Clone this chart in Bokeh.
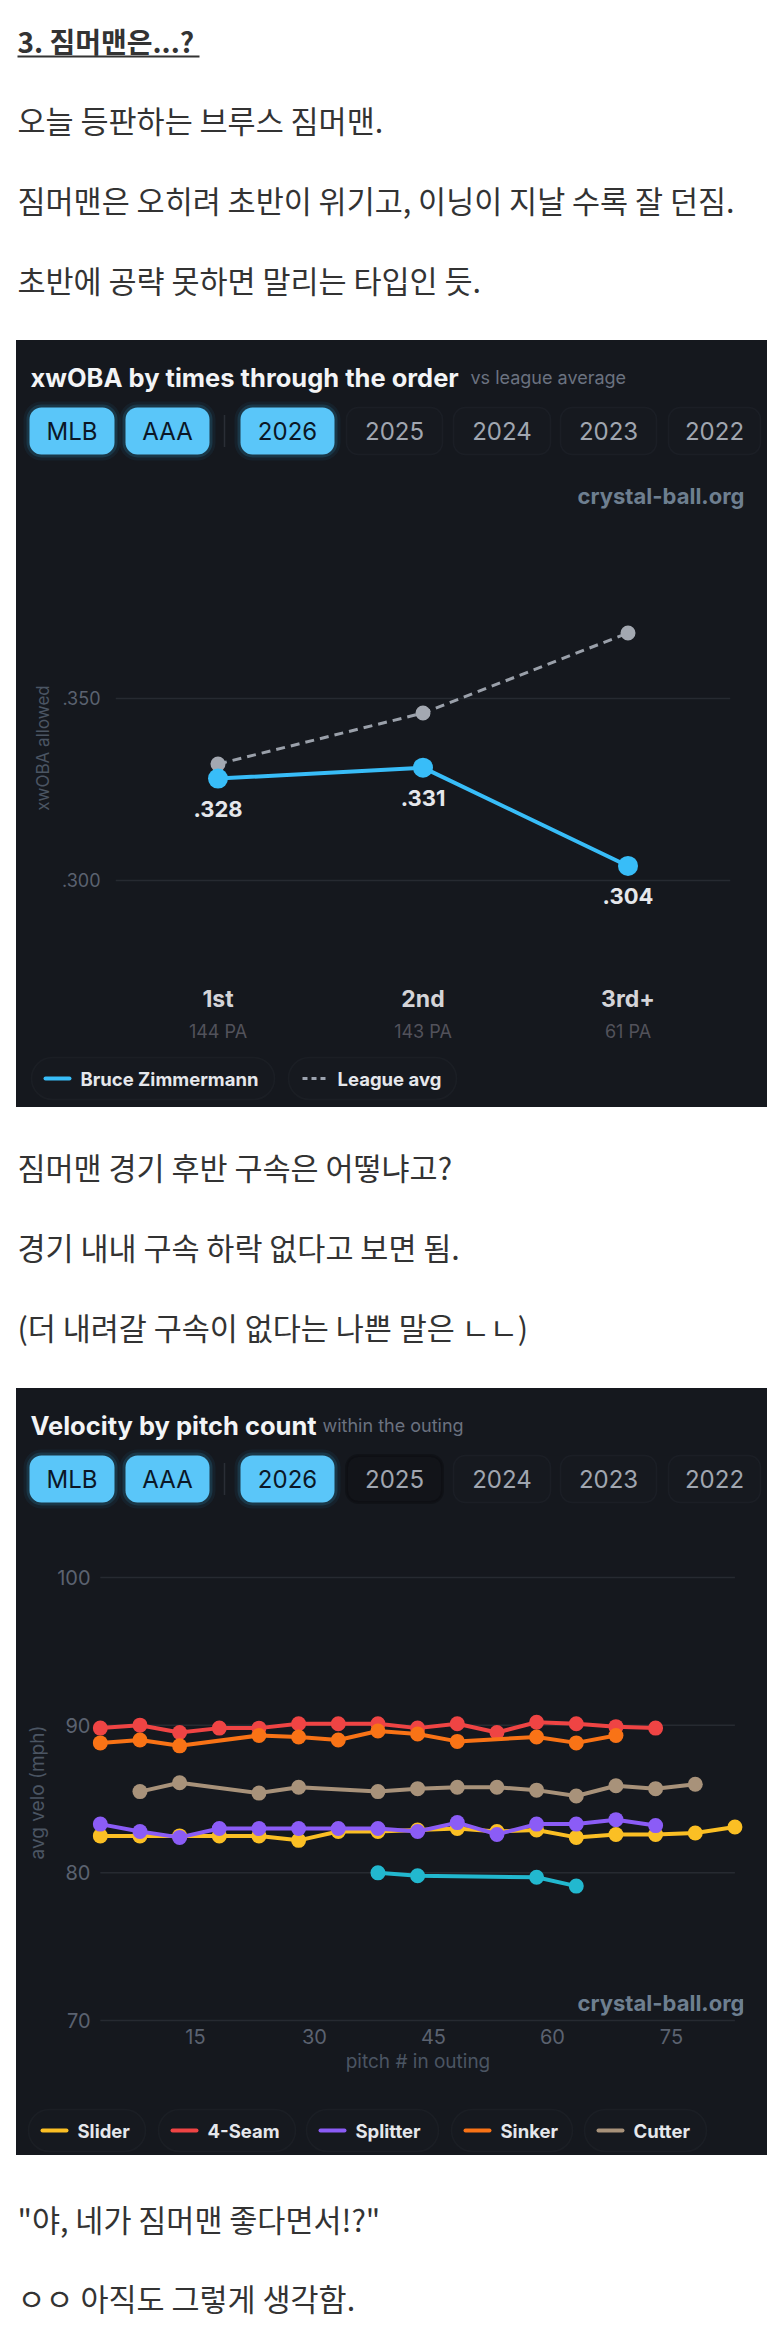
from bokeh.plotting import figure
from bokeh.layouts import column, row
from bokeh.models import (Range1d, FactorRange, FixedTicker, CustomJSTickFormatter,
                          BoxAnnotation, CategoricalAxis, Label, Spacer)
from bokeh.core.properties import value
from bokeh.embed import file_html
from bokeh.resources import INLINE

# ---------------- post text ----------------
post_heading = "3. 짐머맨은...?"
para_intro = ["오늘 등판하는 브루스 짐머맨.",
              "짐머맨은 오히려 초반이 위기고, 이닝이 지날 수록 잘 던짐.",
              "초반에 공략 못하면 말리는 타입인 듯."]
para_velo = ["짐머맨 경기 후반 구속은 어떻냐고?",
             "경기 내내 구속 하락 없다고 보면 됨.",
             "(더 내려갈 구속이 없다는 나쁜 말은 ㄴㄴ)"]
para_end = ["\"야, 네가 짐머맨 좋다면서!?\"",
            "ㅇㅇ 아직도 그렇게 생각함."]

# ---------------- chart 1 data ----------------
tto_title = "xwOBA by times through the order"
tto_subtitle = "vs league average"
tto_labels = ["1st", "2nd", "3rd+"]
tto_pa = ["144 PA", "143 PA", "61 PA"]
zimmermann_xwoba = [0.328, 0.331, 0.304]
league_xwoba = [0.332, 0.346, 0.368]
xwoba_ticks = [0.300, 0.350]
tto_series = ["Bruce Zimmermann", "League avg"]

# ---------------- chart 2 data ----------------
velo_title = "Velocity by pitch count"
velo_subtitle = "within the outing"
slider_pitch = [3, 8, 13, 18, 23, 28, 33, 38, 43, 48, 53, 58, 63, 68, 73, 78, 83]
slider_velo = [82.5, 82.5, 82.5, 82.5, 82.5, 82.2, 82.8, 82.8, 82.9, 83.0, 82.8, 82.9, 82.4, 82.6, 82.6, 82.7, 83.1]
fourseam_pitch = [3, 8, 13, 18, 23, 28, 33, 38, 43, 48, 53, 58, 63, 68, 73]
fourseam_velo = [89.8, 90.0, 89.5, 89.8, 89.8, 90.1, 90.1, 90.1, 89.8, 90.1, 89.5, 90.2, 90.1, 89.9, 89.8]
splitter_pitch = [3, 8, 13, 18, 23, 28, 33, 38, 43, 48, 53, 58, 63, 68, 73]
splitter_velo = [83.3, 82.8, 82.4, 83.0, 83.0, 83.0, 83.0, 83.0, 82.8, 83.4, 82.6, 83.3, 83.3, 83.6, 83.2]
sinker_pitch = [3, 8, 13, 23, 28, 33, 38, 43, 48, 58, 63, 68]
sinker_velo = [88.8, 89.0, 88.6, 89.3, 89.2, 89.0, 89.6, 89.4, 88.9, 89.2, 88.8, 89.3]
cutter_pitch = [8, 13, 23, 28, 38, 43, 48, 53, 58, 63, 68, 73, 78]
cutter_velo = [85.5, 86.1, 85.4, 85.8, 85.5, 85.7, 85.8, 85.8, 85.6, 85.2, 85.9, 85.7, 86.0]
curve_pitch = [38, 43, 58, 63]
curve_velo = [80.0, 79.8, 79.7, 79.1]
velo_ticks = [70, 80, 90, 100]
pitch_ticks = [15, 30, 45, 60, 75]
legend_pitches = ["Slider", "4-Seam", "Splitter", "Sinker", "Cutter"]

level_buttons = ["MLB", "AAA"]
season_buttons = ["2026", "2025", "2024", "2023", "2022"]
watermark = "crystal-ball.org"

# ---------------- styles ----------------
FONT = "Inter"
INTER = value(FONT)
KR = value("Noto Sans CJK KR")
TEXT = "#333333"
PANEL = "#15181e"
GRID = "#262a31"
TICK = "#5b6270"
BLUE = "#38bdf8"
PITCH_COLORS = {"Slider": "#fbbf24", "4-Seam": "#ef4444", "Splitter": "#8b5cf6",
                "Sinker": "#f97316", "Cutter": "#a8927a", "Curveball": "#22b8cf"}


def style(p, bg):
    # paint the background with CSS so no canvas seams appear between stacked figures
    p.background_fill_color = None
    p.border_fill_color = None
    p.outline_line_color = None
    p.styles = {"background-color": bg}
    return p


def pix_fig(x0, x1, y0, y1, bg):
    p = figure(width=x1 - x0, height=y1 - y0, x_range=Range1d(x0, x1), y_range=Range1d(y1, y0),
               x_axis_type=None, y_axis_type=None, output_backend="svg", toolbar_location=None,
               min_border=0)
    return style(p, bg)


def text_block(y0, y1, lines, ys):
    p = pix_fig(0, 780, y0, y1, "white")
    p.text(x=[17] * len(lines), y=ys, text=lines, text_font=KR, text_font_size="30.5px",
           text_color=TEXT, text_baseline="middle")
    return p


# ---------------- top text ----------------
top = text_block(0, 340, para_intro, [119, 199, 279])
top.text(x=[17], y=[40], text=[post_heading], text_font=KR, text_font_size="28px",
         text_font_style="bold", text_color=TEXT, text_baseline="middle")
top.segment(x0=[17], y0=[56], x1=[199], y1=[56], line_color=TEXT, line_width=2)

# ---------------- chart header ----------------
BTN_X = [(29, 114), (125, 209), (240, 334), (346, 442), (453, 550), (560, 656), (668, 760)]


def chart_header(y0, y1, title, subtitle, sub_x, hovered=None, mark_y=None):
    p = pix_fig(16, 767, y0, y1, PANEL)
    base = y0 + 37
    p.text(x=[30], y=[base], text=[title], text_font=INTER, text_font_style="bold",
           text_font_size="25.5px", text_color="#f3f4f6", text_baseline="alphabetic")
    p.text(x=[sub_x], y=[base], text=[subtitle], text_font=INTER, text_font_size="18px",
           text_color="#6b7280", text_baseline="alphabetic")
    bt, bb = y0 + 67, y0 + 114
    cy = (bt + bb) / 2
    labels = level_buttons + season_buttons
    active = [True, True, True, False, False, False, False]
    for (x0, x1), lab, act in zip(BTN_X, labels, active):
        if act:
            for pad, a in ((6, 0.06), (3, 0.14)):
                p.add_layout(BoxAnnotation(left=x0 - pad, right=x1 + pad, top=bt - pad, bottom=bb + pad,
                                           border_radius=12 + pad, fill_color=BLUE, fill_alpha=a,
                                           line_color=None, level="underlay"))
            p.add_layout(BoxAnnotation(left=x0, right=x1, top=bt, bottom=bb, border_radius=12,
                                       fill_color="#5ac6f9", fill_alpha=1, line_color=None,
                                       level="underlay"))
            col = "#0b1726"
        else:
            hov = (lab == hovered)
            p.add_layout(BoxAnnotation(left=x0, right=x1, top=bt, bottom=bb, border_radius=12,
                                       fill_color="#121419" if hov else "#16191f", fill_alpha=1,
                                       line_color="#07080b" if hov else "#2a2e37",
                                       line_width=3 if hov else 1.5, level="underlay"))
            col = "#a0a6b0"
        p.text(x=[(x0 + x1) / 2], y=[cy], text=[lab], text_font=INTER, text_font_size="24px",
               text_color=col, text_align="center", text_baseline="middle")
    p.segment(x0=[224], y0=[cy - 16], x1=[224], y1=[cy + 16], line_color="#2a2e36", line_width=1.5)
    if mark_y is not None:
        p.text(x=[744], y=[mark_y], text=[watermark], text_font=INTER, text_font_style="bold",
               text_font_size="22px", text_color="#6e7f90", text_align="right",
               text_baseline="middle")
    return p


def legend_footer(y0, y1, pt, pb, items):
    p = pix_fig(16, 767, y0, y1, PANEL)
    cy = (pt + pb) / 2
    for (x0, x1), name, color, dash in items:
        p.add_layout(BoxAnnotation(left=x0, right=x1, top=pt, bottom=pb,
                                   border_radius=int((pb - pt) // 2),
                                   fill_color="#16191f", fill_alpha=1, line_color="#2a2e36",
                                   line_width=1.5, level="underlay"))
        p.segment(x0=[x0 + 14], y0=[cy], x1=[x0 + 38], y1=[cy], line_color=color,
                  line_width=4 if dash is None else 3, line_cap="round" if dash is None else "butt",
                  line_dash="solid" if dash is None else dash)
        p.text(x=[x0 + 49], y=[cy], text=[name], text_font=INTER, text_font_style="bold",
               text_font_size="18.5px", text_color="#e5e7eb", text_baseline="middle")
    return p


def dark_plot(**kw):
    p = figure(output_backend="svg", toolbar_location=None, **kw)
    return style(p, PANEL)


# ---------------- chart 1 ----------------
h1 = chart_header(340, 520, tto_title, tto_subtitle, 470, mark_y=495)

p1 = dark_plot(width=751, height=525, x_range=FactorRange(factors=tto_labels),
               y_range=Range1d(0.2739, 0.3989),
               min_border_left=99, min_border_right=37, min_border_top=0, min_border_bottom=70)
xt = FixedTicker(ticks=xwoba_ticks)
p1.yaxis.ticker = xt
p1.ygrid.ticker = xt
p1.yaxis.formatter = CustomJSTickFormatter(code="return tick.toFixed(3).replace(/^0/, '')")
p1.ygrid.grid_line_color = GRID
p1.ygrid.grid_line_width = 1.5
p1.xgrid.visible = False
ya = p1.yaxis[0]
ya.axis_line_color = None
ya.major_tick_line_color = None
ya.minor_tick_line_color = None
ya.major_tick_out = 0
ya.major_label_standoff = 15
ya.major_label_text_font = FONT
ya.major_label_text_font_size = "18px"
ya.major_label_text_color = TICK
ya.axis_label = "xwOBA allowed"
ya.axis_label_text_font = FONT
ya.axis_label_text_font_style = "normal"
ya.axis_label_text_font_size = "17px"
ya.axis_label_text_color = "#4b5563"
ya.axis_label_standoff = 6

xa = p1.xaxis[0]
xa.axis_line_color = None
xa.major_tick_line_color = None
xa.major_tick_out = 0
xa.major_label_standoff = 9
xa.major_label_text_font = FONT
xa.major_label_text_font_style = "bold"
xa.major_label_text_font_size = "23px"
xa.major_label_text_color = "#d4d4d8"

p1.extra_x_ranges = {"pa": FactorRange(factors=tto_pa)}
xa2 = CategoricalAxis(x_range_name="pa", axis_line_color=None, major_tick_line_color=None,
                      major_tick_out=0, major_label_standoff=5, major_label_text_font=FONT,
                      major_label_text_font_size="18px", major_label_text_color="#52525b")
p1.add_layout(xa2, "below")

p1.line(tto_labels, league_xwoba, line_color="#9aa0aa", line_width=3, line_dash="9 6")
p1.scatter(tto_labels, league_xwoba, size=15, fill_color="#a3a8b1", line_color=None)
p1.line(tto_labels, zimmermann_xwoba, line_color=BLUE, line_width=4)
p1.scatter(tto_labels, zimmermann_xwoba, size=20, fill_color=BLUE, line_color=None)
p1.text(tto_labels, zimmermann_xwoba, text=[f"{v:.3f}"[1:] for v in zimmermann_xwoba],
        y_offset=30, text_font=INTER, text_font_style="bold", text_font_size="22px",
        text_color="#e5e7eb", text_align="center", text_baseline="middle")

f1 = legend_footer(1045, 1107, 1057, 1099,
                   [((31, 274), tto_series[0], BLUE, None),
                    ((288, 456), tto_series[1], "#9ca3af", "5 4")])

# ---------------- text between ----------------
mid = text_block(1107, 1388, para_velo, [1166, 1246, 1326])

# ---------------- chart 2 ----------------
h2 = chart_header(1388, 1560, velo_title, velo_subtitle, 322, hovered="2025")

p2 = dark_plot(width=751, height=535, x_range=Range1d(2.017, 84.08),
               y_range=Range1d(69.729, 101.151),
               min_border_left=76, min_border_right=24, min_border_top=0, min_border_bottom=71)
p2.grid.visible = False
series = [("Slider", slider_pitch, slider_velo), ("4-Seam", fourseam_pitch, fourseam_velo),
          ("Splitter", splitter_pitch, splitter_velo), ("Sinker", sinker_pitch, sinker_velo),
          ("Cutter", cutter_pitch, cutter_velo), ("Curveball", curve_pitch, curve_velo)]
all_x = [x for _, xs, _ in series for x in xs]
gx0, gx1 = min(all_x), max(all_x)
p2.segment(x0=[gx0] * len(velo_ticks), y0=velo_ticks, x1=[gx1] * len(velo_ticks), y1=velo_ticks,
           line_color=GRID, line_width=1.5)
for name, xs, ys in series:
    c = PITCH_COLORS[name]
    p2.line(xs, ys, line_color=c, line_width=4)
    p2.scatter(xs, ys, size=15, fill_color=c, line_color=None)

xa = p2.xaxis[0]
xa.ticker = FixedTicker(ticks=pitch_ticks)
ya = p2.yaxis[0]
ya.ticker = FixedTicker(ticks=velo_ticks)
for ax in (xa, ya):
    ax.axis_line_color = None
    ax.major_tick_line_color = None
    ax.minor_tick_line_color = None
    ax.major_tick_out = 0
    ax.major_label_text_font = FONT
    ax.major_label_text_font_size = "20px"
    ax.major_label_text_color = TICK
    ax.axis_label_text_font = FONT
    ax.axis_label_text_font_style = "normal"
    ax.axis_label_text_font_size = "19px"
    ax.axis_label_text_color = "#4b5563"
xa.major_label_standoff = 4
xa.axis_label = "pitch # in outing"
xa.axis_label_standoff = 3
ya.major_label_standoff = 2
ya.axis_label = "avg velo (mph)"
ya.axis_label_standoff = 5
p2.add_layout(Label(x=652, y=22, x_units="screen", y_units="screen", text=watermark,
                    text_font=FONT, text_font_style="bold", text_font_size="22px",
                    text_color="#6e7f90", text_align="right", text_baseline="middle"))

LEG2_X = [(28, 145), (158, 295), (306, 438), (451, 572), (584, 706)]
f2 = legend_footer(2095, 2155, 2109, 2151,
                   [(xx, n, PITCH_COLORS[n], None) for xx, n in zip(LEG2_X, legend_pitches)])

# ---------------- bottom text ----------------
bot = text_block(2155, 2332, para_end, [2218, 2297])


def framed(fig):
    h = fig.height
    return row(Spacer(width=16, height=h), fig, Spacer(width=13, height=h), spacing=0)


page = column(top, framed(h1), framed(p1), framed(f1), mid,
              framed(h2), framed(p2), framed(f2), bot, spacing=0)

open("out.html", "w").write(file_html(page, INLINE))
